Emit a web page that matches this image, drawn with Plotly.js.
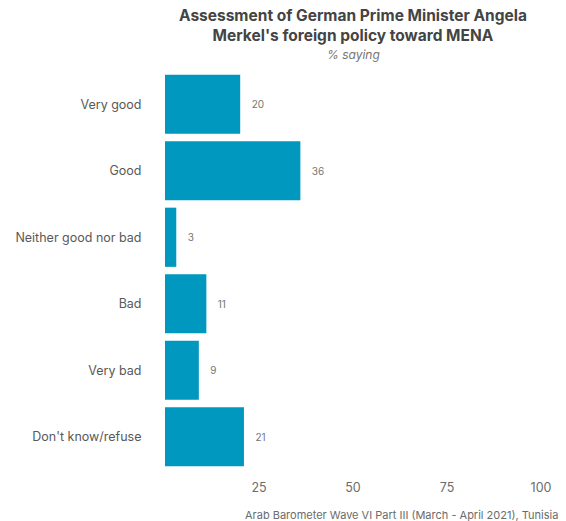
<!DOCTYPE html>
<html>
<head>
<meta charset="utf-8">
<script src="https://cdn.plot.ly/plotly-3.0.1.min.js"></script>
<style>html,body{margin:0;padding:0;background:#fff;}#chart{width:566px;height:521px;}</style>
</head>
<body>
<div id="chart"></div>
<script>
const categories = ["Very good", "Good", "Neither good nor bad", "Bad", "Very bad", "Don't know/refuse"];
const values = [20, 36, 3, 11, 9, 21];
const tickValues = [25, 50, 75, 100];
const tickLabels = ["25", "50", "75", "100"];
const titleText = "<b>Assessment of German Prime Minister Angela<br>Merkel's foreign policy toward MENA</b>";
const subtitleText = "<i>% saying</i>";
const sourceText = "Arab Barometer Wave VI Part III (March - April 2021), Tunisia";

const FONT = "Inter, 'Open Sans', sans-serif";
const PAD = "\u00a0\u00a0\u00a0";

const trace = {
  type: "bar",
  orientation: "h",
  y: categories,
  x: values,
  marker: {color: "#0098be"},
  text: values.map(v => PAD + String(v)),
  textposition: "outside",
  textfont: {family: FONT, size: 10, color: "#757575"},
  cliponaxis: false,
  hoverinfo: "none"
};

const layout = {
  width: 566,
  height: 521,
  margin: {l: 165, r: 25, t: 71, b: 51},
  paper_bgcolor: "#fff",
  plot_bgcolor: "#fff",
  bargap: 0.11,
  showlegend: false,
  font: {family: FONT, color: "#595959"},
  xaxis: {
    range: [0, 100],
    tickvals: tickValues,
    ticktext: tickLabels,
    showgrid: false,
    zeroline: false,
    showline: false,
    ticks: "outside",
    ticklen: 6,
    tickcolor: "rgba(0,0,0,0)",
    tickfont: {family: FONT, size: 12.5, color: "#6b6b6b"},
    fixedrange: true
  },
  yaxis: {
    categoryorder: "array",
    categoryarray: categories,
    autorange: "reversed",
    showgrid: false,
    zeroline: false,
    showline: false,
    ticks: "outside",
    ticklen: 20,
    tickcolor: "rgba(0,0,0,0)",
    tickfont: {family: FONT, size: 12.5, color: "#595959"},
    fixedrange: true
  },
  annotations: [
    {
      text: titleText,
      xref: "paper", yref: "paper",
      x: 0.5, y: 1, yshift: 24,
      xanchor: "center", yanchor: "bottom",
      showarrow: false,
      font: {family: FONT, size: 15.5, color: "#444444"}
    },
    {
      text: subtitleText,
      xref: "paper", yref: "paper",
      x: 0.5, y: 1, yshift: 17,
      xanchor: "center", yanchor: "middle",
      showarrow: false,
      font: {family: FONT, size: 12, color: "#757575"}
    },
    {
      text: sourceText,
      xref: "paper", yref: "paper",
      x: 1, xshift: 19, y: 0, yshift: -45,
      xanchor: "right", yanchor: "middle",
      showarrow: false,
      font: {family: FONT, size: 11, color: "#6b6b6b"}
    }
  ]
};

Plotly.newPlot("chart", [trace], layout, {displayModeBar: false, staticPlot: true});
</script>
</body>
</html>
